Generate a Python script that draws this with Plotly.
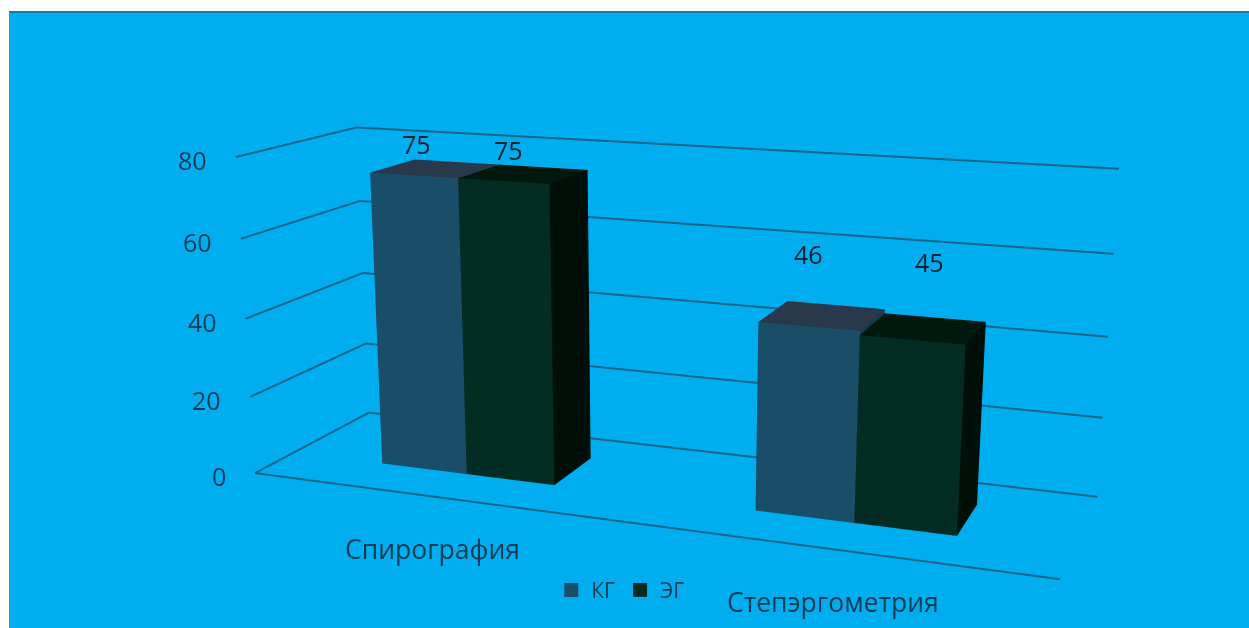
import plotly.graph_objects as go

# ---- data -------------------------------------------------------------
categories = ["Спирография", "Степэргометрия"]
series_names = ["КГ", "ЭГ"]
kg_values = [75, 46]
eg_values = [75, 45]
value_ticks = [0, 20, 40, 60, 80]

# ---- style ------------------------------------------------------------
BG = "#00AEEF"
GRID = "#16658A"
TEXT = "#113C54"
LABEL = "#0B2230"
FONT = "Open Sans"

# face colours per series: front, top, side
FACE_COLORS = {
    "КГ": {"front": "#1A4E68", "top": "#2A384C", "side": "#133C52"},
    "ЭГ": {"front": "#032D22", "top": "#01180E", "side": "#000F07"},
}

BAR_W = 0.24          # width of one bar (category slot = 1)
CLUSTER_LEFT = 0.26   # left edge of the cluster inside a slot
DEPTH = (0.32, 0.72)  # front / back of the bars along the depth axis
Z_MAX = 80

# pixel nudges of the value labels above each category
LABEL_LIFT = [[31, 31], [72, 78]]
LABEL_NUDGE = [[3, 5], [0, 17]]


def box(x0, x1, y0, y1, h):
    xs = [x0, x1, x1, x0, x0, x1, x1, x0]
    ys = [y0, y0, y1, y1, y0, y0, y1, y1]
    zs = [0, 0, 0, 0, h, h, h, h]
    tris = [
        ((0, 1, 5), "front"), ((0, 5, 4), "front"),
        ((3, 2, 6), "side"), ((3, 6, 7), "side"),
        ((0, 3, 7), "side"), ((0, 7, 4), "side"),
        ((1, 2, 6), "side"), ((1, 6, 5), "side"),
        ((0, 1, 2), "side"), ((0, 2, 3), "side"),
        ((4, 5, 6), "top"), ((4, 6, 7), "top"),
    ]
    return xs, ys, zs, tris


fig = go.Figure()

all_values = [kg_values, eg_values]
annotations = []

for s, (name, values) in enumerate(zip(series_names, all_values)):
    X, Y, Z, I, J, K, FC = [], [], [], [], [], [], []
    for c, v in enumerate(values):
        x0 = c + CLUSTER_LEFT + s * BAR_W
        x1 = x0 + BAR_W
        xs, ys, zs, tris = box(x0, x1, DEPTH[0], DEPTH[1], v)
        base = len(X)
        X += xs
        Y += ys
        Z += zs
        for (a, b, d), face in tris:
            I.append(base + a)
            J.append(base + b)
            K.append(base + d)
            FC.append(FACE_COLORS[name][face])
        annotations.append(dict(
            x=(x0 + x1) / 2, y=DEPTH[0], z=v, text=str(v),
            showarrow=False, xanchor="center", yanchor="middle",
            xshift=LABEL_NUDGE[c][s], yshift=LABEL_LIFT[c][s],
            font=dict(family=FONT, size=25, color=LABEL),
        ))
    fig.add_trace(go.Mesh3d(
        x=X, y=Y, z=Z, i=I, j=J, k=K, facecolor=FC,
        flatshading=True, hoverinfo="skip", showlegend=False,
        lighting=dict(ambient=1.0, diffuse=0.0, specular=0.0,
                      roughness=1.0, fresnel=0.0),
    ))
    # legend swatch
    fig.add_trace(go.Scatter3d(
        x=[None], y=[None], z=[None], mode="markers", name=name,
        marker=dict(symbol="square", size=14,
                    color=FACE_COLORS[name]["front"]),
    ))

# gridlines on the side wall (x = 0) and back wall (y = 1)
gx, gy, gz = [], [], []
for t in value_ticks:
    gx += [0, 0, len(categories), None]
    gy += [0, 1, 1, None]
    gz += [t, t, t, None]
# category axis line along the front of the floor
gx += [0, len(categories)]
gy += [0, 0]
gz += [0, 0]
fig.add_trace(go.Scatter3d(
    x=gx, y=gy, z=gz, mode="lines", hoverinfo="skip", showlegend=False,
    line=dict(color=GRID, width=4),
))

for t in value_ticks:
    annotations.append(dict(
        x=0, y=0, z=t, text=str(t), showarrow=False,
        xanchor="right", yanchor="middle", xshift=-27, yshift=-3,
        font=dict(family=FONT, size=25, color=TEXT),
    ))

for c, name in enumerate(categories):
    annotations.append(dict(
        x=c + 0.5, y=0, z=0, text=name, showarrow=False,
        xanchor="center", yanchor="middle", yshift=-53,
        font=dict(family=FONT, size=26.5, color=TEXT),
    ))

hidden = dict(visible=False, showgrid=False, showbackground=False,
              zeroline=False, showspikes=False)

fig.update_layout(
    width=1249, height=628,
    margin=dict(l=0, r=0, t=0, b=0),
    paper_bgcolor=BG,
    showlegend=True,
    legend=dict(orientation="h", x=0.497, xanchor="center", y=0.06,
                yanchor="middle", bgcolor="rgba(0,0,0,0)",
                font=dict(family=FONT, size=21, color=TEXT),
                itemwidth=30),
    scene=dict(
        domain=dict(x=[0.0568, 1.0], y=[0.0, 0.8312]),
        bgcolor="rgba(0,0,0,0)",
        xaxis=dict(range=[0, len(categories)], **hidden),
        yaxis=dict(range=[0, 1], **hidden),
        zaxis=dict(range=[0, Z_MAX], **hidden),
        aspectmode="manual",
        aspectratio=dict(x=1.7544, y=0.5004, z=0.6988),
        camera=dict(
            eye=dict(x=1.3116, y=-3.4832, z=0.918),
            center=dict(x=-0.0083, y=-0.0264, z=-0.0803),
            up=dict(x=0, y=0, z=1),
            projection=dict(type="perspective"),
        ),
        annotations=annotations,
        dragmode=False,
    ),
    shapes=[
        dict(type="rect", xref="paper", yref="paper", x0=0, x1=1,
             y0=1 - 11 / 628, y1=1, fillcolor="white", line_width=0),
        dict(type="rect", xref="paper", yref="paper", x0=0, x1=9 / 1249,
             y0=0, y1=1, fillcolor="white", line_width=0),
        dict(type="line", xref="paper", yref="paper", x0=9 / 1249, x1=1,
             y0=1 - 12 / 628, y1=1 - 12 / 628,
             line=dict(color="#0A80B0", width=2)),
    ],
)

# narrower field of view for a gentle perspective
NARROW_FOV = """
var gd = document.getElementById('{plot_id}');
var sc = gd._fullLayout.scene._scene;
if (sc && sc.glplot) {
  sc.glplot.fovy = 0.28534;
  if (typeof sc.glplot.redraw === 'function') { sc.glplot.redraw(); }
}
"""

fig.write_html("out.html", post_script=NARROW_FOV)
